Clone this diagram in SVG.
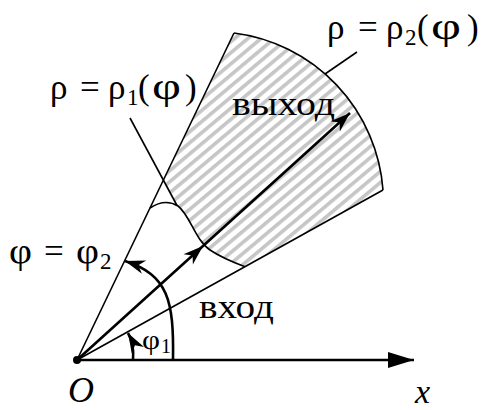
<svg xmlns="http://www.w3.org/2000/svg" width="481" height="410" viewBox="0 0 481 410">
<defs>
<pattern id="hatch" patternUnits="userSpaceOnUse" width="8.5" height="8.5" patternTransform="rotate(-40)">
<rect x="0" y="0" width="8.5" height="3.6" fill="#c6c6c6"/>
</pattern>
<marker id="barb" markerUnits="userSpaceOnUse" markerWidth="24" markerHeight="16" refX="0" refY="0" viewBox="-22 -8 24 16" orient="auto" overflow="visible">
<path d="M0,0 L-20,-7 L-14,0 L-20,7 Z" fill="#000"/>
</marker>
<marker id="tri" markerUnits="userSpaceOnUse" markerWidth="28" markerHeight="18" refX="0" refY="0" viewBox="-27 -9 28 18" orient="auto" overflow="visible">
<path d="M0,0 L-26,-8 L-26,8 Z" fill="#000"/>
</marker>
<style>
.ln{fill:none;stroke:#000;stroke-width:1.6}
.thk{fill:none;stroke:#000;stroke-width:2.6}
.t{font-family:"Liberation Serif","Times New Roman",serif;fill:#000}
.it{font-family:"Liberation Serif","Times New Roman",serif;font-style:italic;fill:#000}
</style>
</defs>

<g id="region">
<path d="M150,208 L234,33 A171,171 0 0 1 383,190 L245,266.7 C235,263 222,258 210,250 C195,240 190,215 178,206 Q165,198 150,208 Z" fill="url(#hatch)"/>
<path d="M150,208 L163.4,180 L177,205.5 Q165,198 150,208 Z" fill="#fff"/>
</g>

<g id="connectors">
<line class="ln" x1="77" y1="360" x2="234" y2="33"/>
<line class="ln" x1="77" y1="360" x2="383" y2="190"/>
<path class="ln" d="M234,33 A171,171 0 0 1 383,190"/>
<path class="ln" d="M150,208 Q165,198 178,206 C190,215 195,240 210,250 C222,258 235,263 245,266.7"/>
<line class="ln" x1="130" y1="118" x2="177" y2="205.5"/>
<line class="ln" x1="357" y1="52" x2="325" y2="74"/>
<line class="thk" x1="77" y1="360" x2="414" y2="360" marker-end="url(#tri)"/>
<path class="thk" d="M77,360 L203,246 L350,113" marker-mid="url(#barb)" marker-end="url(#barb)"/>
<path class="thk" d="M173,360 C174,300 168,275 125,261" marker-end="url(#barb)"/>
<path class="thk" d="M133,360 C134,348 132,340 128,333" marker-end="url(#barb)"/>
<circle cx="77" cy="360" r="4" fill="#000"/>
</g>

<g id="label-rho2">
<text class="t" font-size="35" y="39"><tspan x="327">ρ</tspan><tspan x="358">=</tspan><tspan x="386">ρ</tspan><tspan x="405" font-size="23" dy="6">2</tspan><tspan x="417" dy="-6">(</tspan><tspan x="467">)</tspan></text>
<text class="t" font-size="37" x="431" y="39" textLength="30" lengthAdjust="spacingAndGlyphs">φ</text>
</g>
<g id="label-rho1">
<text class="t" font-size="35" y="99"><tspan x="50">ρ</tspan><tspan x="80">=</tspan><tspan x="108">ρ</tspan><tspan x="127" font-size="23" dy="6">1</tspan><tspan x="138" dy="-6">(</tspan><tspan x="185">)</tspan></text>
<text class="t" font-size="37" x="152" y="99" textLength="29" lengthAdjust="spacingAndGlyphs">φ</text>
</g>
<g id="label-phi2">
<text class="t" font-size="35" x="9" y="263" textLength="23" lengthAdjust="spacingAndGlyphs">φ</text>
<text class="t" font-size="35" x="44" y="263">=</text>
<text class="t" font-size="35" x="76" y="263" textLength="23" lengthAdjust="spacingAndGlyphs">φ</text>
<text class="t" font-size="23" x="100" y="269">2</text>
</g>
<g id="label-phi1">
<text class="t" font-size="28" x="142" y="349" textLength="18" lengthAdjust="spacingAndGlyphs">φ</text>
<text class="t" font-size="20" x="161" y="353">1</text>
</g>
<g id="label-out">
<text class="t" font-size="34" x="232" y="115" textLength="103" lengthAdjust="spacingAndGlyphs">выход</text>
</g>
<g id="label-in">
<text class="t" font-size="34" x="199" y="318" textLength="75" lengthAdjust="spacingAndGlyphs">вход</text>
</g>
<g id="label-O">
<text class="it" font-size="36" x="68" y="402">O</text>
</g>
<g id="label-x">
<text class="it" font-size="34" x="415" y="403">x</text>
</g>
</svg>
